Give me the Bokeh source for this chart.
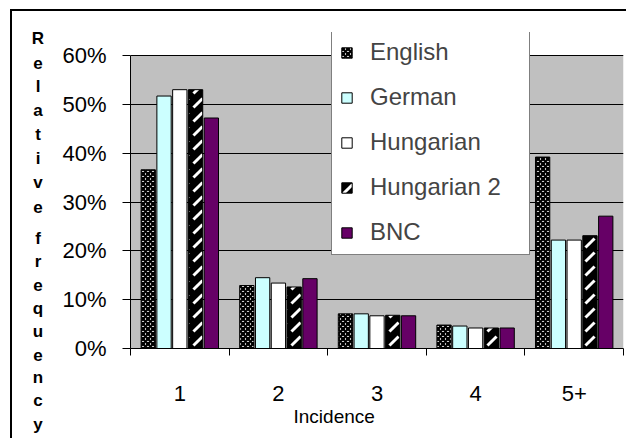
from bokeh.plotting import figure
from bokeh.layouts import row
from bokeh.models import (ColumnDataSource, Range1d, FixedTicker, NumeralTickFormatter,
                          Legend, LegendItem, BoxAnnotation, Title)
from bokeh.core.properties import value
from bokeh.transform import dodge
from bokeh.embed import file_html
from bokeh.resources import INLINE

categories = ["1", "2", "3", "4", "5+"]
english = [0.366, 0.129, 0.071, 0.048, 0.392]
german = [0.517, 0.145, 0.071, 0.046, 0.222]
hungarian = [0.530, 0.134, 0.067, 0.042, 0.222]
hungarian2 = [0.530, 0.126, 0.068, 0.042, 0.231]
bnc = [0.472, 0.143, 0.067, 0.042, 0.271]
series_names = ["English", "German", "Hungarian", "Hungarian 2", "BNC"]
y_ticks = [0.0, 0.1, 0.2, 0.3, 0.4, 0.5, 0.6]
x_title = "Incidence"
y_title = "Relative frequency"

FONT = "Liberation Sans"

# ---------------- main chart ----------------
pos = list(range(1, len(categories) + 1))
src = ColumnDataSource(dict(x=pos, English=english, German=german, Hungarian=hungarian,
                            Hungarian2=hungarian2, BNC=bnc))

y_max = y_ticks[-1]
y_top = y_max * 316 / 293   # extra white room above the plot area for the legend

p = figure(width=576, height=429, output_backend="svg", toolbar_location=None,
           x_range=Range1d(0.5, len(pos) + 0.5), y_range=Range1d(0, y_top),
           min_border_left=80, min_border_top=21, min_border_right=3, min_border_bottom=92)
p.styles = {"border-top": "2px solid black"}
p.background_fill_color = "white"
p.border_fill_color = "white"
p.outline_line_color = None

p.add_layout(BoxAnnotation(left=0.5, right=len(pos) + 0.5, bottom=0, top=y_max,
                           fill_color="#C0C0C0", fill_alpha=1.0, line_color=None,
                           level="image"))

w = 0.145
styles = [
    dict(field="English", off=-0.32, fill_color="white", hatch_pattern="diagonal_cross",
         hatch_color="black", hatch_scale=5, hatch_weight=2.3),
    dict(field="German", off=-0.16, fill_color="#CCFFFF"),
    dict(field="Hungarian", off=0.0, fill_color="white"),
    dict(field="Hungarian2", off=0.16, fill_color="black", hatch_pattern="right_diagonal_dash",
         hatch_color="white", hatch_scale=14, hatch_weight=3),
    dict(field="BNC", off=0.32, fill_color="#660066"),
]
items = []
for name, st in zip(series_names, styles):
    kw = {k: v for k, v in st.items() if k not in ("field", "off")}
    r = p.vbar(x=dodge("x", st["off"], range=p.x_range), top=st["field"], width=w, source=src,
               line_color="black", line_width=1, **kw)
    items.append(LegendItem(label=name, renderers=[r]))

# axes
p.xaxis.ticker = FixedTicker(ticks=pos, minor_ticks=[i + 0.5 for i in range(0, len(pos) + 1)])
p.xaxis.major_label_overrides = {x: c for x, c in zip(pos, categories)}
p.xaxis.major_tick_out = 0
p.xaxis.major_tick_in = 0
p.xaxis.minor_tick_out = 7
p.xaxis.minor_tick_in = 0
p.xaxis.minor_tick_line_color = "black"
p.xaxis.axis_line_color = "black"
p.xaxis.major_label_standoff = 30
p.xaxis.major_label_text_font = FONT
p.xaxis.major_label_text_font_size = "22px"
p.xaxis.major_label_text_color = "black"

p.yaxis.ticker = FixedTicker(ticks=y_ticks, minor_ticks=[])
p.yaxis.bounds = (0, y_max)
p.yaxis.formatter = NumeralTickFormatter(format="0%")
p.yaxis.major_tick_out = 8
p.yaxis.major_tick_in = 0
p.yaxis.minor_tick_line_color = None
p.yaxis.axis_line_color = "black"
p.yaxis.major_tick_line_color = "black"
p.yaxis.major_label_standoff = 16
p.yaxis.major_label_text_font = FONT
p.yaxis.major_label_text_font_size = "22px"
p.yaxis.major_label_text_color = "black"

p.xgrid.grid_line_color = None
p.ygrid.grid_line_color = "black"
p.ygrid.grid_line_width = 1

# x-axis title
p.add_layout(Title(text=x_title, align="left", offset=163, standoff=0,
                   text_font=FONT, text_font_size="19px", text_font_style="normal",
                   text_color="black"), "below")

legend = Legend(items=items, location=(201, 93), padding=8, spacing=17,
                glyph_width=13, glyph_height=13, label_standoff=17, label_width=151,
                label_text_font=FONT, label_text_font_size="24px",
                border_line_color="black", border_line_width=1,
                background_fill_color="white", background_fill_alpha=1.0)
p.add_layout(legend, "center")

# ---------------- stacked y-axis title ----------------
lw, lh = 40, 429
t = figure(width=lw, height=lh, output_backend="svg", toolbar_location=None,
           x_range=Range1d(0, lw), y_range=Range1d(lh, 0),
           x_axis_location=None, y_axis_location=None,
           min_border=0, min_border_left=0, min_border_right=0,
           min_border_top=0, min_border_bottom=0)
t.styles = {"border-top": "2px solid black", "border-left": "2px solid black"}
t.grid.visible = False
t.outline_line_color = None
t.background_fill_color = "white"
t.border_fill_color = "white"

for fig in (p, t):
    try:
        fig.frame_align = False
    except Exception:
        pass

letters, ys = [], []
words = y_title.split(" ")
starts = [27, 227]
pitches = [24, 23.2]
for word, s, pt in zip(words, starts, pitches):
    for i, ch in enumerate(word):
        letters.append(ch)
        ys.append(s + pt * i)
t.text(x=[25.5] * len(letters), y=ys, text=letters, text_font=value(FONT),
       text_font_size="17px", text_font_style="bold", text_align="center",
       text_baseline="alphabetic", text_color="black")

layout = row(t, p)
layout.styles = {"margin-left": "10px", "margin-top": "9px"}

open("out.html", "w").write(file_html(layout, INLINE))
